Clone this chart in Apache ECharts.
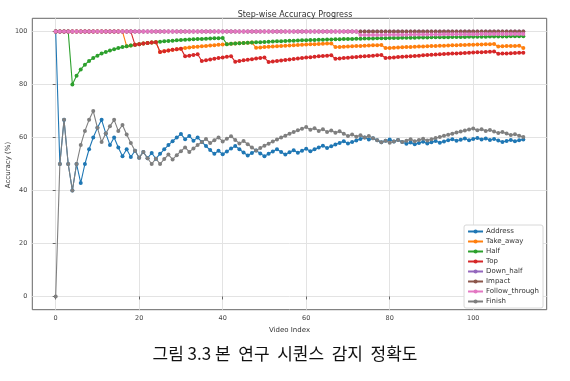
<!DOCTYPE html>
<html><head><meta charset="utf-8">
<script src="https://cdn.jsdelivr.net/npm/echarts@6/dist/echarts.min.js"></script>
<style>html,body{margin:0;padding:0;background:#fff;}#c{width:570px;height:381px;}</style>
</head><body><div id="c"></div>
<script>
const seriesNames = ['Address','Take_away','Half','Top','Down_half','Impact','Follow_through','Finish'];
const xTicks = [0,20,40,60,80,100];
const yTicks = [0,20,40,60,80,100];

const address = [100,50,66.67,50,40,50,42.86,50,55.56,60,
63.64,66.67,61.54,57.14,60,56.25,52.94,55.56,52.63,55,
52.38,54.55,52.17,54.17,52,53.85,55.56,57.14,58.62,60,
61.29,59.38,60.61,58.82,60,58.33,56.76,55.26,53.85,55,
53.66,54.76,55.81,56.82,55.56,54.35,53.19,54.17,55.1,54,
52.94,53.85,54.72,55.56,54.55,53.57,54.39,55.17,54.24,55,
55.74,54.84,55.56,56.25,56.92,56.06,56.72,57.35,57.97,58.57,
57.75,58.33,58.9,59.46,60,59.21,59.74,58.97,58.23,58.75,
59.26,58.54,59.04,58.33,57.65,58.14,57.47,57.95,58.43,57.78,
58.24,58.7,58.06,58.51,58.95,59.38,58.76,59.18,59.6,59,
59.41,59.8,59.22,59.62,59.05,59.43,58.88,58.33,58.72,59.09,
58.56,58.93,59.29];

const takeAway = [100,100,100,100,100,100,100,100,100,100,
100,100,100,100,100,100,100,94.44,94.74,95,
95.24,95.45,95.65,95.83,96,92.31,92.59,92.86,93.1,93.33,
93.55,93.75,93.94,94.12,94.29,94.44,94.59,94.74,94.87,95,
95.12,95.24,95.35,95.45,95.56,95.65,95.74,95.83,93.88,94,
94.12,94.23,94.34,94.44,94.55,94.64,94.74,94.83,94.92,95,
95.08,95.16,95.24,95.31,95.38,95.45,95.52,94.12,94.2,94.29,
94.37,94.44,94.52,94.59,94.67,94.74,94.81,94.87,94.94,93.75,
93.83,93.9,93.98,94.05,94.12,94.19,94.25,94.32,94.38,94.44,
94.51,94.57,94.62,94.68,94.74,94.79,94.85,94.9,94.95,95,
95.05,95.1,95.15,95.19,95.24,95.28,94.39,94.44,94.5,94.55,
94.59,94.64,93.81];

const half = [100,100,100,100,80,83.33,85.71,87.5,88.89,90,
90.91,91.67,92.31,92.86,93.33,93.75,94.12,94.44,94.74,95,
95.24,95.45,95.65,95.83,96,96.15,96.3,96.43,96.55,96.67,
96.77,96.88,96.97,97.06,97.14,97.22,97.3,97.37,97.44,97.5,
97.56,95.24,95.35,95.45,95.56,95.65,95.74,95.83,95.92,96,
96.08,96.15,96.23,96.3,96.36,96.43,96.49,96.55,96.61,96.67,
96.72,96.77,96.83,96.88,96.92,96.97,97.01,97.06,97.1,97.14,
97.18,97.22,97.26,97.3,97.33,97.37,97.4,97.44,97.47,97.5,
97.53,97.56,97.59,97.62,97.65,97.67,97.7,97.73,97.75,97.78,
97.8,97.83,97.85,97.87,97.89,97.92,97.94,97.96,97.98,98,
98.02,98.04,98.06,98.08,98.1,98.11,98.13,98.15,98.17,98.18,
98.2,98.21,98.23];

const top_ = [100,100,100,100,100,100,100,100,100,100,
100,100,100,100,100,100,100,100,100,95,
95.24,95.45,95.65,95.83,96,92.31,92.59,92.86,93.1,93.33,
93.55,90.63,90.91,91.18,91.43,88.89,89.19,89.47,89.74,90,
90.24,90.48,90.7,88.64,88.89,89.13,89.36,89.58,89.8,90,
90.2,88.46,88.68,88.89,89.09,89.29,89.47,89.66,89.83,90,
90.16,90.32,90.48,90.63,90.77,90.91,91.04,89.71,89.86,90,
90.14,90.28,90.41,90.54,90.67,90.79,90.91,91.03,91.14,90,
90.12,90.24,90.36,90.48,90.59,90.7,90.8,90.91,91.01,91.11,
91.21,91.3,91.4,91.49,91.58,91.67,91.75,91.84,91.92,92,
92.08,92.16,92.23,92.31,92.38,92.45,91.59,91.67,91.74,91.82,
91.89,91.96,92.04];

const downHalf = [100,100,100,100,100,100,100,100,100,100,
100,100,100,100,100,100,100,100,100,100,
100,100,100,100,100,100,100,100,100,100,
100,100,100,100,100,100,100,100,100,100,
100,100,100,100,100,100,100,100,100,100,
100,100,100,100,100,100,100,100,100,100,
100,100,100,100,100,100,100,100,100,100,
100,100,100,100,100,100,100,100,100,100,
100,100,100,100,100,100,100,100,100,100,
100,100,100,100,100,100,100,100,100,100,
100,100,100,100,100,100,100,100,100,100,
100,100,100];

const impact = [100,100,100,100,100,100,100,100,100,100,
100,100,100,100,100,100,100,100,100,100,
100,100,100,100,100,100,100,100,100,100,
100,100,100,100,100,100,100,100,100,100,
100,100,100,100,100,100,100,100,100,100,
100,100,100,100,100,100,100,100,100,100,
100,100,100,100,100,100,100,100,100,100,
100,100,100,100,100,100,100,100,100,100,
100,100,100,100,100,100,100,100,100,100,
100,100,100,100,100,100,100,100,100,100,
100,100,100,100,100,100,100,100,100,100,
100,100,100];

const followThrough = [100,100,100,100,100,100,100,100,100,100,
100,100,100,100,100,100,100,100,100,100,
100,100,100,100,100,100,100,100,100,100,
100,100,100,100,100,100,100,100,100,100,
100,100,100,100,100,100,100,100,100,100,
100,100,100,100,100,100,100,100,100,100,
100,100,100,100,100,100,100,100,100,100,
100,100,100,98.65,98.67,98.68,98.7,98.72,98.73,98.75,
98.77,98.78,98.8,98.81,98.82,98.84,98.85,98.86,98.88,98.89,
98.9,98.91,98.92,98.94,98.95,98.96,98.97,98.98,98.99,99,
99.01,99.02,99.03,99.04,99.05,99.06,99.07,99.07,99.08,99.09,
99.1,99.11,99.12];

const finish = [0,50,66.67,50,40,50,57.14,62.5,66.67,70,
63.64,58.33,61.54,64.29,66.67,62.5,64.71,61.11,57.89,55,
52.38,54.55,52.17,50,52,50,51.85,53.57,51.72,53.33,
54.84,56.25,54.55,55.88,57.14,58.33,59.46,57.89,58.97,60,
58.54,59.52,60.47,59.09,57.78,58.7,57.45,56.25,55.1,56,
56.86,57.69,58.49,59.26,60,60.71,61.4,62.07,62.71,63.33,
63.93,62.9,63.49,62.5,63.08,62.12,62.69,61.76,62.32,61.43,
60.56,61.11,60.27,60.81,60,60.53,59.74,58.97,58.23,58.75,
58.02,58.54,59.04,58.33,58.82,59.3,58.62,59.09,59.55,58.89,
59.34,59.78,60.22,60.64,61.05,61.46,61.86,62.24,62.63,63,
63.37,62.75,63.11,62.5,62.86,62.26,61.68,62.04,61.47,60.91,
61.26,60.71,60.18];

const seriesValues = [address, takeAway, half, top_, downHalf, impact, followThrough, finish];
const colors = ['#1f77b4','#ff7f0e','#2ca02c','#d62728','#9467bd','#8c564b','#e377c2','#7f7f7f'];

const chart = echarts.init(document.getElementById('c'), null, {renderer: 'canvas'});
const font = 'DejaVu Sans';
const option = {
  animation: false,
  backgroundColor: '#fff',
  textStyle: {fontFamily: font},
  title: {
    text: 'Step-wise Accuracy Progress',
    left: 290, top: 6, textAlign: 'center',
    textStyle: {fontSize: 8, fontWeight: 'normal', color: '#333', fontFamily: font}
  },
  grid: {left: 32.3, right: 23.3, top: 18.3, bottom: 71.3, outerBoundsMode: 'none', containLabel: false,
         show: true, borderColor: '#666', borderWidth: 1, backgroundColor: 'transparent'},
  legend: {
    orient: 'vertical', right: 27, top: 225,
    data: seriesNames,
    itemWidth: 15, itemHeight: 5, itemGap: 3,
    backgroundColor: '#fff', borderColor: '#d8d8d8', borderWidth: 1, borderRadius: 2,
    padding: [3, 4, 3, 3],
    textStyle: {fontSize: 7, color: '#333', fontFamily: font, padding: [0,0,0,-2]}
  },
  xAxis: {
    type: 'value', min: -5.6, max: 117.6,
    name: 'Video Index', nameLocation: 'middle', nameGap: 16,
    nameTextStyle: {fontSize: 7, color: '#333'},
    axisLine: {show: false},
    axisTick: {show: true, length: 3, customValues: xTicks, lineStyle: {color: '#666'}},
    axisLabel: {customValues: xTicks, fontSize: 6.5, color: '#444', margin: 5},
    splitLine: {show: true, lineStyle: {color: '#e3e3e3', width: 1}}
  },
  yAxis: {
    type: 'value', min: -5, max: 105,
    axisLine: {show: false},
    axisTick: {show: true, length: 3, customValues: yTicks, lineStyle: {color: '#666'}},
    axisLabel: {customValues: yTicks, fontSize: 6.5, color: '#444', margin: 5},
    splitLine: {show: true, lineStyle: {color: '#e3e3e3', width: 1}}
  },
  series: seriesNames.map((name, k) => ({
    name: name, type: 'line',
    data: seriesValues[k].map((v, i) => [i, v]),
    symbol: 'circle', symbolSize: 4, showAllSymbol: true,
    lineStyle: {width: 1.1, color: colors[k]},
    itemStyle: {color: colors[k]},
    emphasis: {disabled: true}
  })),
  graphic: [{
    type: 'text', x: 8.5, y: 165, rotation: Math.PI / 2,
    style: {text: 'Accuracy (%)', fontSize: 7, fill: '#333', fontFamily: font, align: 'center', verticalAlign: 'middle'}
  }, {
    type: 'text', left: 'center', top: 345,
    style: {text: '그림 3.3 본  연구  시퀀스  감지  정확도', fontSize: 17, fill: '#111', fontFamily: 'Noto Sans CJK KR'}
  }]
};
chart.setOption(option);
</script>
</body></html>
